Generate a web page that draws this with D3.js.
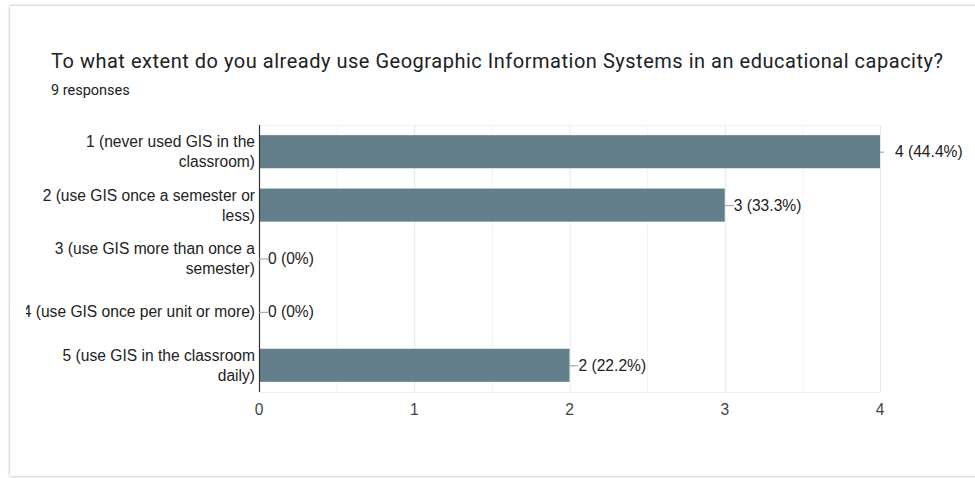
<!DOCTYPE html>
<html><head><meta charset="utf-8">
<script src="https://cdn.jsdelivr.net/npm/d3@7"></script>
<style>
html,body{margin:0;padding:0;background:#fff;}
svg{display:block;}
</style></head>
<body>
<svg id="chart" width="975" height="478"></svg>
<script>
const titleText = "To what extent do you already use Geographic Information Systems in an educational capacity?";
const subtitleText = "9 responses";
const categories = [
  ["1 (never used GIS in the", "classroom)"],
  ["2 (use GIS once a semester or", "less)"],
  ["3 (use GIS more than once a", "semester)"],
  ["4 (use GIS once per unit or more)"],
  ["5 (use GIS in the classroom", "daily)"]
];
const values = [4, 3, 0, 0, 2];
const percentLabels = ["44.4%", "33.3%", "0%", "0%", "22.2%"];
const xTicks = [0, 1, 2, 3, 4];
const xMinorTicks = [0.5, 1.5, 2.5, 3.5];

const svg = d3.select("#chart");
const W = 975, H = 478;
const plot = {left: 259, right: 880, top: 125, bottom: 392};

// card background with shadow
const defs = svg.append("defs");
const f = defs.append("filter").attr("id","sh").attr("x","-5%").attr("y","-5%").attr("width","110%").attr("height","110%");
f.append("feDropShadow").attr("dx",0).attr("dy",0).attr("stdDeviation",1.6).attr("flood-color","#000").attr("flood-opacity",0.35);
defs.append("clipPath").attr("id","cardclip").append("rect").attr("x",26).attr("y",6).attr("width",W).attr("height",470);

svg.append("rect").attr("x",10).attr("y",6).attr("width",W+20).attr("height",470)
  .attr("fill","#fff").attr("filter","url(#sh)");

const title = svg.append("text").attr("x",51).attr("y",68).text(titleText)
  .attr("font-family","Roboto, 'Noto Sans', sans-serif").attr("font-size",20).attr("fill","#202124");
title.attr("textLength",892).attr("lengthAdjust","spacing");
const sub = svg.append("text").attr("x",51).attr("y",95).text(subtitleText)
  .attr("font-family","Roboto, 'Noto Sans', sans-serif").attr("font-size",14.5).attr("fill","#202124");

const x = d3.scaleLinear().domain([0,4]).range([plot.left, plot.right]);
const y = d3.scaleBand().domain(d3.range(categories.length)).range([plot.top, plot.bottom]).paddingInner(0.38).paddingOuter(0.19);

const g = svg.append("g");
// minor gridlines
g.selectAll(".minor").data(xMinorTicks).join("line")
  .attr("x1",d=>x(d)+0.5).attr("x2",d=>x(d)+0.5).attr("y1",plot.top).attr("y2",plot.bottom)
  .attr("stroke","#f3f3f3").attr("stroke-width",1);
// major gridlines
g.selectAll(".major").data(xTicks.slice(1)).join("line")
  .attr("x1",d=>x(d)+0.5).attr("x2",d=>x(d)+0.5).attr("y1",plot.top).attr("y2",plot.bottom)
  .attr("stroke","#e6e6e6").attr("stroke-width",1);
// top/bottom frame
[plot.top, plot.bottom].forEach(yy=>{
  g.append("line").attr("x1",plot.left).attr("x2",plot.right+1).attr("y1",yy+0.5).attr("y2",yy+0.5)
   .attr("stroke","#efefef");
});

// bars
g.selectAll(".bar").data(values).join("rect")
  .attr("x",x(0)).attr("y",(d,i)=>y(i)).attr("width",d=>x(d)-x(0)).attr("height",y.bandwidth())
  .attr("fill","#647f8c");

// axis line
g.append("line").attr("x1",x(0)+0.5).attr("x2",x(0)+0.5).attr("y1",plot.top).attr("y2",plot.bottom)
  .attr("stroke","#333").attr("stroke-width",1.2);

const FS = 15.6;
// category labels
const catG = svg.append("g").attr("clip-path","url(#cardclip)");
categories.forEach((lines,i)=>{
  const cy = y(i) + y.bandwidth()/2;
  const lh = 20;
  const t = catG.append("text").attr("text-anchor","end")
    .attr("font-family","'Liberation Sans', Arial, sans-serif").attr("font-size",FS).attr("fill","#222");
  lines.forEach((ln,j)=>{
    t.append("tspan").attr("x",x(0)-4).attr("y",cy + (j - (lines.length-1)/2)*lh + 5.5).text(ln);
  });
});

// value labels with leaders
values.forEach((v,i)=>{
  const cy = y(i) + y.bandwidth()/2;
  const atEdge = v === d3.max(xTicks);
  const x0 = x(v), x1 = x(v) + (atEdge ? 4 : 9);
  svg.append("line").attr("x1",x0).attr("x2",x1).attr("y1",cy+0.5).attr("y2",cy+0.5)
    .attr("stroke","#aaa").attr("stroke-width",1.2);
  svg.append("text").attr("x", x(v) + (atEdge ? 15 : 9)).attr("y",cy+5.5)
    .attr("font-family","'Liberation Sans', Arial, sans-serif").attr("font-size",FS).attr("fill","#222")
    .text(`${v} (${percentLabels[i]})`);
});

// x tick labels
svg.selectAll(".xt").data(xTicks).join("text")
  .attr("x",d=>x(d)).attr("y",415).attr("text-anchor","middle")
  .attr("font-family","'Liberation Sans', Arial, sans-serif").attr("font-size",FS).attr("fill","#444")
  .text(d=>d);
</script>
</body></html>
